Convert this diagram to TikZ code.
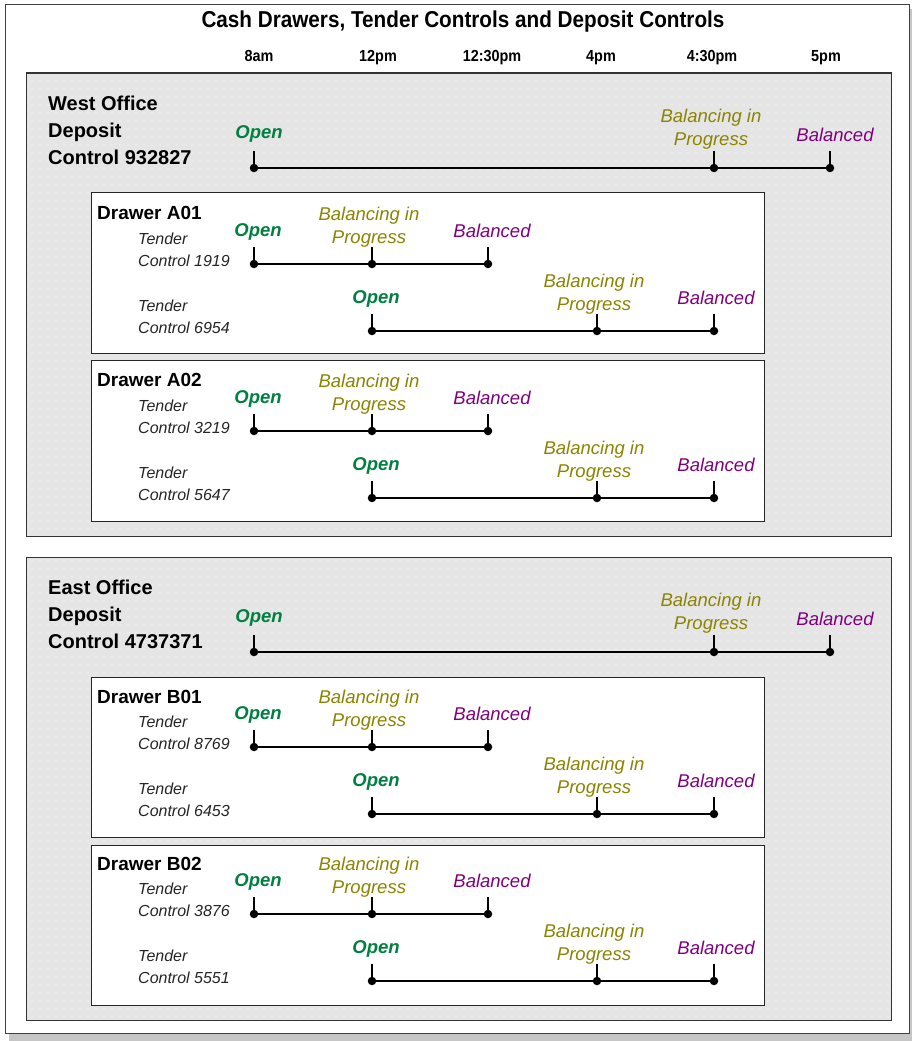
\documentclass[tikz,border=0pt]{standalone}
\usepackage{fontspec}
\setmainfont{Liberation Sans}
\newfontfamily\narrowfont[FakeStretch=0.9]{Liberation Sans}
\usetikzlibrary{patterns.meta}

\definecolor{opengreen}{RGB}{0,128,64}
\definecolor{progolive}{RGB}{140,132,0}
\definecolor{balpurple}{RGB}{128,0,128}

\tikzset{
  frame/.style={draw=black!75, line width=1pt, fill=white},
  panel/.style={preaction={fill=gray!20}, pattern={Dots[distance=8pt,radius=0.6pt]},
    pattern color=white, draw=black!80, line width=1pt},
  drawerbox/.style={draw=black!85, line width=1pt, fill=white},
  title/.style={font=\narrowfont\bfseries\fontsize{23}{26}\selectfont},
  hour/.style={anchor=base, font=\narrowfont\bfseries\fontsize{16}{18}\selectfont},
  office/.style={anchor=north west, inner sep=0pt, align=left,
    font=\bfseries\fontsize{20}{27}\selectfont},
  drawer/.style={anchor=base west, inner sep=0pt, font=\bfseries\fontsize{19}{22}\selectfont},
  tender/.style={anchor=north west, inner sep=0pt, align=left, text=black!85,
    font=\itshape\fontsize{16}{22}\selectfont},
  status/.style={anchor=south, inner sep=0pt, align=center,
    font=\itshape\fontsize{18.5}{23}\selectfont},
  open/.style={status, text=opengreen, font=\bfseries\itshape\fontsize{18.5}{23}\selectfont},
  prog/.style={status, text=progolive},
  bal/.style={status, text=balpurple},
  dot/.style={circle, fill=black, inner sep=0pt, minimum size=8.5pt},
  span/.style={line width=1.6pt},
  tick/.style={line width=1.6pt}
}

\begin{document}
\begin{tikzpicture}[x=1pt,y=-1pt]
  \useasboundingbox (0,0) rectangle (912,1041);
  % page with its shadow
  \fill[gray!45] (9,1033) rectangle (912,1041);
  \fill[gray!45] (909,9) rectangle (912,1041);
  \draw[frame] (5,5) rectangle (909,1033);

  \node[title] (title) at (463,22) {Cash Drawers, Tender Controls and Deposit Controls};
  \node[hour] (h8) at (259,62) {8am};
  \node[hour] (h12) at (378,62) {12pm};
  \node[hour] (h1230) at (492,62) {12:30pm};
  \node[hour] (h4) at (601,62) {4pm};
  \node[hour] (h430) at (712,62) {4:30pm};
  \node[hour] (h5) at (826,62) {5pm};

  % West office
  \draw[panel] (26,73) rectangle (891,536);
  \node[office] (west) at (48,96) {West Office\\Deposit\\Control 932827};
  \node[dot] (w1) at (254,168) {};
  \node[dot] (w2) at (714,168) {};
  \node[dot] (w3) at (830,168) {};
  \draw[span] (w1) -- (w2) -- (w3);
  \draw[tick] (w1.center) -- ++(0,-17);
  \draw[tick] (w2.center) -- ++(0,-17);
  \draw[tick] (w3.center) -- ++(0,-17);
  \node[open] (w1l) at (259,143) {Open};
  \node[prog] (w2l) at (711,150) {Balancing in\\Progress};
  \node[bal] (w3l) at (835,142) {Balanced};

  % Drawer A01
  \draw[drawerbox] (91,192) rectangle (764,353);
  \node[drawer] (da01) at (97,219) {Drawer A01};
  \node[tender] (c1919) at (138,233) {Tender\\Control 1919};
  \node[dot] (t1919a) at (254,264) {};
  \node[dot] (t1919b) at (372,264) {};
  \node[dot] (t1919c) at (488,264) {};
  \draw[span] (t1919a) -- (t1919b) -- (t1919c);
  \draw[tick] (t1919a.center) -- ++(0,-17);
  \draw[tick] (t1919b.center) -- ++(0,-17);
  \draw[tick] (t1919c.center) -- ++(0,-17);
  \node[open] (t1919al) at (258,241) {Open};
  \node[prog] (t1919bl) at (369,248) {Balancing in\\Progress};
  \node[bal] (t1919cl) at (492,238) {Balanced};

  \node[tender] (c6954) at (138,300) {Tender\\Control 6954};
  \node[dot] (t6954a) at (372,331) {};
  \node[dot] (t6954b) at (597,331) {};
  \node[dot] (t6954c) at (714,331) {};
  \draw[span] (t6954a) -- (t6954b) -- (t6954c);
  \draw[tick] (t6954a.center) -- ++(0,-17);
  \draw[tick] (t6954b.center) -- ++(0,-17);
  \draw[tick] (t6954c.center) -- ++(0,-17);
  \node[open] (t6954al) at (376,308) {Open};
  \node[prog] (t6954bl) at (594,315) {Balancing in\\Progress};
  \node[bal] (t6954cl) at (716,305) {Balanced};

  % Drawer A02
  \draw[drawerbox] (91,360) rectangle (764,521);
  \node[drawer] (da02) at (97,386) {Drawer A02};
  \node[tender] (c3219) at (138,400) {Tender\\Control 3219};
  \node[dot] (t3219a) at (254,431) {};
  \node[dot] (t3219b) at (372,431) {};
  \node[dot] (t3219c) at (488,431) {};
  \draw[span] (t3219a) -- (t3219b) -- (t3219c);
  \draw[tick] (t3219a.center) -- ++(0,-17);
  \draw[tick] (t3219b.center) -- ++(0,-17);
  \draw[tick] (t3219c.center) -- ++(0,-17);
  \node[open] (t3219al) at (258,408) {Open};
  \node[prog] (t3219bl) at (369,415) {Balancing in\\Progress};
  \node[bal] (t3219cl) at (492,405) {Balanced};

  \node[tender] (c5647) at (138,467) {Tender\\Control 5647};
  \node[dot] (t5647a) at (372,498) {};
  \node[dot] (t5647b) at (597,498) {};
  \node[dot] (t5647c) at (714,498) {};
  \draw[span] (t5647a) -- (t5647b) -- (t5647c);
  \draw[tick] (t5647a.center) -- ++(0,-17);
  \draw[tick] (t5647b.center) -- ++(0,-17);
  \draw[tick] (t5647c.center) -- ++(0,-17);
  \node[open] (t5647al) at (376,475) {Open};
  \node[prog] (t5647bl) at (594,482) {Balancing in\\Progress};
  \node[bal] (t5647cl) at (716,472) {Balanced};

  % East office
  \draw[panel] (26,557) rectangle (891,1020);
  \node[office] (east) at (48,580) {East Office\\Deposit\\Control 4737371};
  \node[dot] (e1) at (254,652) {};
  \node[dot] (e2) at (714,652) {};
  \node[dot] (e3) at (830,652) {};
  \draw[span] (e1) -- (e2) -- (e3);
  \draw[tick] (e1.center) -- ++(0,-17);
  \draw[tick] (e2.center) -- ++(0,-17);
  \draw[tick] (e3.center) -- ++(0,-17);
  \node[open] (e1l) at (259,627) {Open};
  \node[prog] (e2l) at (711,634) {Balancing in\\Progress};
  \node[bal] (e3l) at (835,626) {Balanced};

  % Drawer B01
  \draw[drawerbox] (91,677) rectangle (764,837);
  \node[drawer] (db01) at (97,703) {Drawer B01};
  \node[tender] (c8769) at (138,716) {Tender\\Control 8769};
  \node[dot] (t8769a) at (254,747) {};
  \node[dot] (t8769b) at (372,747) {};
  \node[dot] (t8769c) at (488,747) {};
  \draw[span] (t8769a) -- (t8769b) -- (t8769c);
  \draw[tick] (t8769a.center) -- ++(0,-17);
  \draw[tick] (t8769b.center) -- ++(0,-17);
  \draw[tick] (t8769c.center) -- ++(0,-17);
  \node[open] (t8769al) at (258,724) {Open};
  \node[prog] (t8769bl) at (369,731) {Balancing in\\Progress};
  \node[bal] (t8769cl) at (492,721) {Balanced};

  \node[tender] (c6453) at (138,783) {Tender\\Control 6453};
  \node[dot] (t6453a) at (372,814) {};
  \node[dot] (t6453b) at (597,814) {};
  \node[dot] (t6453c) at (714,814) {};
  \draw[span] (t6453a) -- (t6453b) -- (t6453c);
  \draw[tick] (t6453a.center) -- ++(0,-17);
  \draw[tick] (t6453b.center) -- ++(0,-17);
  \draw[tick] (t6453c.center) -- ++(0,-17);
  \node[open] (t6453al) at (376,791) {Open};
  \node[prog] (t6453bl) at (594,798) {Balancing in\\Progress};
  \node[bal] (t6453cl) at (716,788) {Balanced};

  % Drawer B02
  \draw[drawerbox] (91,845) rectangle (764,1005);
  \node[drawer] (db02) at (97,870) {Drawer B02};
  \node[tender] (c3876) at (138,883) {Tender\\Control 3876};
  \node[dot] (t3876a) at (254,914) {};
  \node[dot] (t3876b) at (372,914) {};
  \node[dot] (t3876c) at (488,914) {};
  \draw[span] (t3876a) -- (t3876b) -- (t3876c);
  \draw[tick] (t3876a.center) -- ++(0,-17);
  \draw[tick] (t3876b.center) -- ++(0,-17);
  \draw[tick] (t3876c.center) -- ++(0,-17);
  \node[open] (t3876al) at (258,891) {Open};
  \node[prog] (t3876bl) at (369,898) {Balancing in\\Progress};
  \node[bal] (t3876cl) at (492,888) {Balanced};

  \node[tender] (c5551) at (138,950) {Tender\\Control 5551};
  \node[dot] (t5551a) at (372,981) {};
  \node[dot] (t5551b) at (597,981) {};
  \node[dot] (t5551c) at (714,981) {};
  \draw[span] (t5551a) -- (t5551b) -- (t5551c);
  \draw[tick] (t5551a.center) -- ++(0,-17);
  \draw[tick] (t5551b.center) -- ++(0,-17);
  \draw[tick] (t5551c.center) -- ++(0,-17);
  \node[open] (t5551al) at (376,958) {Open};
  \node[prog] (t5551bl) at (594,965) {Balancing in\\Progress};
  \node[bal] (t5551cl) at (716,955) {Balanced};
\end{tikzpicture}
\end{document}
